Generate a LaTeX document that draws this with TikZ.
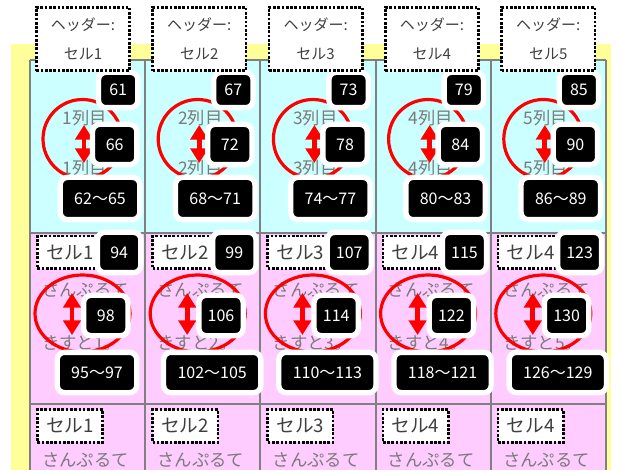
\documentclass[tikz,border=0pt]{standalone}
\usepackage{fontspec}
\setmainfont{Noto Sans CJK JP}
\usetikzlibrary{arrows.meta}
\definecolor{BgYellow}{HTML}{FFFF99}
\definecolor{CellCyan}{HTML}{CCFFFF}
\definecolor{CellPink}{HTML}{FFCCFF}
\definecolor{GridGray}{HTML}{808080}
\definecolor{TextGray}{HTML}{7A7A7A}

\begin{document}
\begin{tikzpicture}[x=0.75pt, y=-0.75pt,
  grid/.style={GridGray, line width=1.5pt},
  hdr/.style={draw=black, line width=2pt, dash pattern=on 2pt off 1.2pt, fill=white, align=center,
    minimum width=70pt, minimum height=47.5pt, text=black!75, font=\fontsize{11.25}{21.75}\selectfont},
  tagbox/.style={draw=black, line width=2pt, dash pattern=on 2pt off 1.2pt, fill=white, anchor=west,
    inner xsep=6.5pt, text width=36pt, align=left, minimum height=24.5pt, text=black!75, font=\fontsize{14}{16}\selectfont},
  gtxt/.style={text=TextGray, inner sep=0pt, font=\fontsize{13}{15}\selectfont},
  badge/.style={fill=black, text=white, draw=white, line width=4pt, rounded corners=5.5pt,
    inner xsep=9.5pt, inner ysep=0pt, minimum height=30.25pt, font=\fontsize{12}{14}\selectfont},
  ring/.style={draw=red, line width=2.4pt},
  rarr/.style={{Triangle[length=11pt,width=13pt]}-{Triangle[length=11pt,width=13pt]}, line width=3.5pt, red}]
\useasboundingbox (0,0) rectangle (621,470);
\fill[white] (0,0) rectangle (621,470);
% background and table cells
\fill[BgYellow] (11,44) rectangle (611,470);
\fill[CellCyan] (30,60) rectangle (606,233);
\fill[CellPink] (30,233) rectangle (606,470);
\foreach \x in {30,145,260,376,491,606} \draw[grid] (\x,60) -- (\x,470);
\foreach \y in {60,233,404} \draw[grid] (30,\y) -- (606,\y);
% one column at a time
\foreach \i/\a/\b/\c/\s/\d/\e/\f in {0/61/66/62〜65/1/94/98/95〜97, 1/67/72/68〜71/2/99/106/102〜105,
    2/73/78/74〜77/3/107/114/110〜113, 3/79/84/80〜83/4/115/122/118〜121, 4/85/90/86〜89/4/123/130/126〜129}{
  \pgfmathsetmacro\xo{30+115.2*\i}
  \pgfmathsetmacro\hx{83+116.3*\i}
  \pgfmathtruncatemacro\n{\i+1}
  % row 1
  \node[gtxt] (la\i) at (\xo+55,118) {\n 列目};
  \node[gtxt] (lb\i) at (\xo+55,168) {\n 列目};
  \draw[ring] (\xo+52.5,139) circle[radius=39.5];
  \draw[rarr] (\xo+54,125) -- (\xo+54,163);
  \node[badge, anchor=east, minimum height=26.5pt, minimum width=29.5pt, inner xsep=7.5pt] (no\i) at (\xo+110.5,90) {\a};
  \node[badge, anchor=east, minimum width=33.25pt, inner xsep=6pt] (mid\i) at (\xo+109.5,144.5) {\b};
  \node[badge, minimum height=31.75pt, inner xsep=10.5pt] (rng\i) at (\xo+70,198.5) {\c};
  % row 2
  \node[gtxt, anchor=west] (sa\i) at (\xo+12,290) {さんぷるて};
  \node[gtxt, anchor=west] (sb\i) at (\xo+12,343) {きすと\n 。};
  \draw[ring] (\xo+52.5,313.5) ellipse[x radius=47.5, y radius=38.5];
  \draw[rarr] (\xo+42,293) -- (\xo+42,335);
  \node[tagbox] (tg\i) at (\xo+6,252.5) {セル\s};
  \node[badge, anchor=east, minimum width=32.5pt, inner xsep=6.5pt] (tno\i) at (\xo+113.5,252.5) {\d};
  \node[badge, anchor=west, minimum width=33.25pt, inner xsep=6pt] (tmid\i) at (\xo+51,315.5) {\e};
  \node[badge, inner xsep=10.5pt] (trng\i) at (\xo+67,372.5) {\f};
  % row 3
  \node[gtxt, anchor=west] (sc\i) at (\xo+12,460) {さんぷるて};
  \node[tagbox] (tgc\i) at (\xo+6,426) {セル\s};
  % header
  \node[hdr] (hd\i) at (\hx,39) {ヘッダー:\\セル\n};
}
\end{tikzpicture}
\end{document}
